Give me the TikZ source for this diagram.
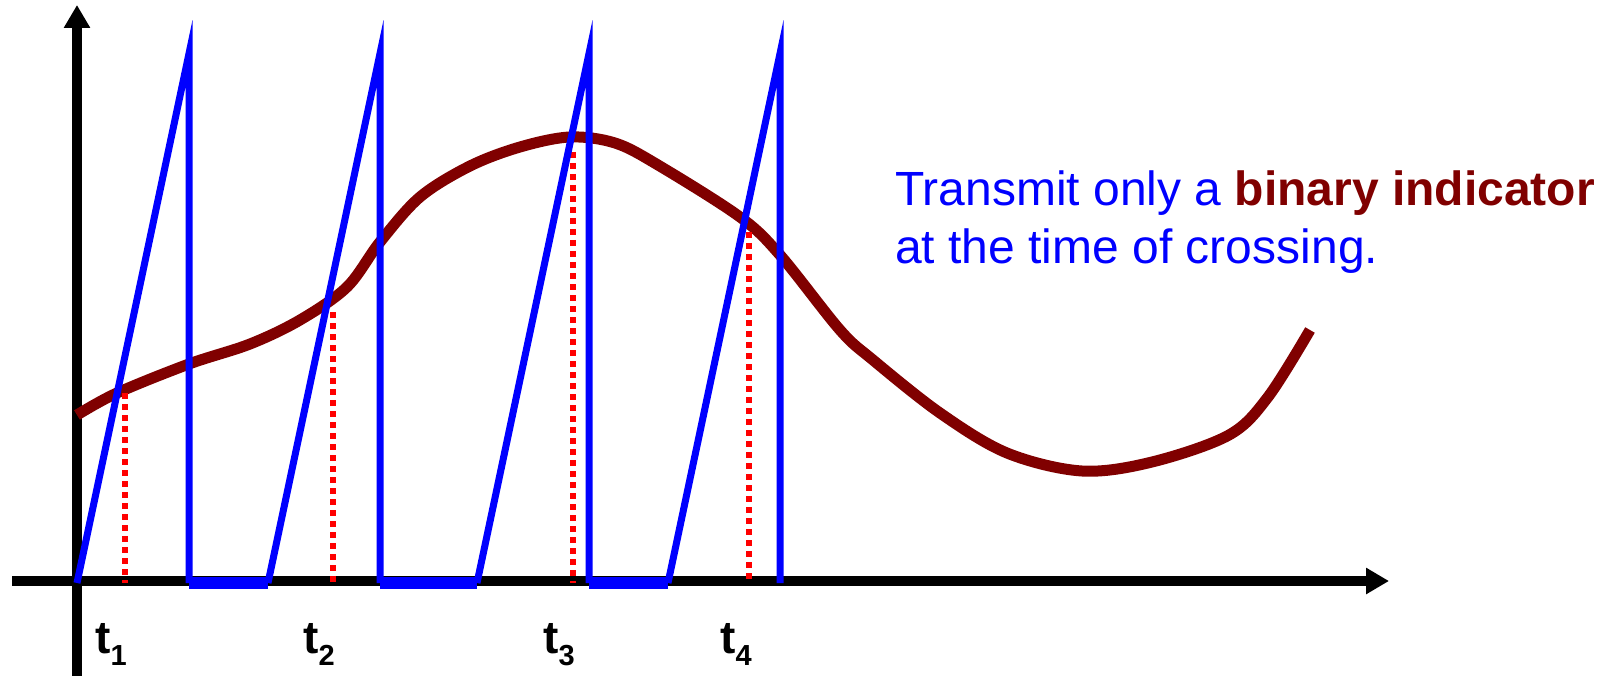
\documentclass[tikz,border=0pt]{standalone}
\usepackage{fontspec}
\setmainfont{Liberation Sans}
\usetikzlibrary{arrows.meta}
\definecolor{maroon}{HTML}{800000}
\tikzset{
  axis/.style={line width=9.5pt,-{Triangle[width=25pt,length=23pt]}},
  ramp/.style={blue,line width=7pt,line join=miter},
  flat/.style={blue,line width=12pt},
  signal/.style={maroon,line width=11pt},
  marker/.style={red,line width=6pt,dash pattern=on 6pt off 5pt},
  tlabel/.style={inner sep=0pt,anchor=base west,font=\fontsize{46}{46}\selectfont\bfseries},
  note/.style={inner sep=0pt,anchor=base west,font=\fontsize{48}{57}\selectfont,text=blue}
}
\newcommand{\tsub}[1]{t\raisebox{-12pt}{\fontsize{29}{29}\selectfont #1}}
\begin{document}
\begin{tikzpicture}[x=1pt,y=-1pt]
\useasboundingbox (0,0) rectangle (1613,676);
% axes
\coordinate (ybot) at (77,676);
\coordinate (ytop) at (77,5);
\coordinate (xleft) at (12,581);
\coordinate (xright) at (1389,581);
\draw[axis] (xleft) -- (xright);
\draw[axis] (ybot) -- (ytop);
% signal
\draw[signal] plot[smooth,tension=0.55] coordinates {
 (77,415) (117,393) (189,364) (250,344) (300,320) (347,287) (380,242) (420,197)
 (470,166) (520,147) (570,137) (615,143) (658,165) (740,217) (780,255)
 (840,330) (873,360) (940,413) (1007,453) (1082,471) (1152,462) (1229,435)
 (1268,397) (1310,330)};
% crossing markers
\coordinate (m1t) at (125,393); \coordinate (m1b) at (125,583);
\coordinate (m2t) at (333,312); \coordinate (m2b) at (333,583);
\coordinate (m3t) at (573,152); \coordinate (m3b) at (573,583);
\coordinate (m4t) at (749,232); \coordinate (m4b) at (749,583);
\draw[marker] (m1t) -- (m1b);
\draw[marker] (m2t) -- (m2b);
\draw[marker] (m3t) -- (m3b);
\draw[marker] (m4t) -- (m4b);
% sawtooth
\coordinate (s0) at (77,583);
\coordinate (p1) at (189,53.5); \coordinate (b1) at (189,583); \coordinate (s1) at (268,583);
\coordinate (p2) at (380,53.5); \coordinate (b2) at (380,583); \coordinate (s2) at (477,583);
\coordinate (p3) at (589,53.5); \coordinate (b3) at (589,583); \coordinate (s3) at (668,583);
\coordinate (p4) at (780,53.5); \coordinate (b4) at (780,583);
\draw[flat] (b1) -- (s1);
\draw[flat] (b2) -- (s2);
\draw[flat] (b3) -- (s3);
\draw[ramp] (s0) -- (p1) -- (b1);
\draw[ramp] (s1) -- (p2) -- (b2);
\draw[ramp] (s2) -- (p3) -- (b3);
\draw[ramp] (s3) -- (p4) -- (b4);
% labels
\node[tlabel] (t1) at (95,653) {\tsub{1}};
\node[tlabel] (t2) at (303,653) {\tsub{2}};
\node[tlabel] (t3) at (543,653) {\tsub{3}};
\node[tlabel] (t4) at (720,653) {\tsub{4}};
\node[note] (n1) at (895,206) {Transmit only a \textcolor{maroon}{\bfseries binary indicator}};
\node[note] (n2) at (895,263) {at the time of crossing.};
\end{tikzpicture}
\end{document}
